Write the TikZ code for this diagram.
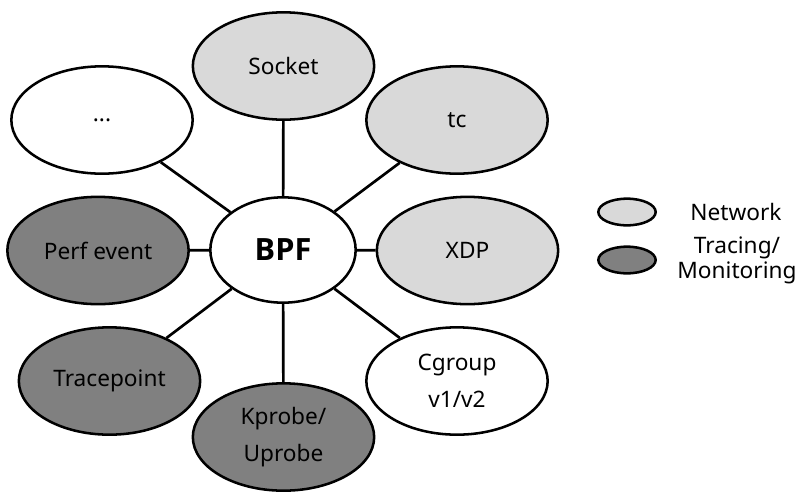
\documentclass[tikz,border=0pt]{standalone}
\usepackage{fontspec}
\setmainfont{Noto Sans}
\newfontfamily\bpffont{Open Sans}
\usetikzlibrary{shapes.geometric}
\definecolor{netgray}{HTML}{D9D9D9}
\definecolor{tracegray}{HTML}{808080}
\begin{document}
\begin{tikzpicture}[x=0.75pt,y=-0.75pt,
  base/.style={ellipse,draw=black,line width=1.9pt,inner sep=0pt,
    minimum width=136pt,minimum height=80.5pt,align=center,
    font=\fontsize{17}{27.75}\selectfont},
  net/.style={base,fill=netgray},
  trace/.style={base,fill=tracegray},
  other/.style={base,fill=white},
  center/.style={ellipse,draw=black,line width=1.9pt,fill=white,inner sep=0pt,
    minimum width=109pt,minimum height=79pt,font=\bpffont\bfseries\fontsize{23}{28}\selectfont},
  legend/.style={ellipse,draw=black,line width=1.9pt,inner sep=0pt,
    minimum width=43pt,minimum height=20pt},
  legtext/.style={align=center,inner sep=0pt,font=\fontsize{17}{18.75}\selectfont},
  link/.style={line width=2pt}]
\useasboundingbox (0,0) rectangle (807,501);
\node[center] (bpf) at (283,250) {BPF};
\node[net] (socket) at (283.5,66) {Socket};
\node[other] (dots) at (102,120) {...};
\node[net] (tc) at (457,120) {tc};
\node[net] (xdp) at (467.5,250.5) {XDP};
\node[other] (cgroup) at (457,381) {Cgroup\\v1/v2};
\node[trace] (kprobe) at (283.5,437) {Kprobe/\\Uprobe};
\node[trace] (tracepoint) at (109.5,381) {Tracepoint};
\node[trace] (perf) at (98,250.5) {Perf event};
\foreach \n in {socket,dots,tc,xdp,cgroup,kprobe,tracepoint,perf}
  \draw[link] (bpf) -- (\n);
\node[legend,fill=netgray] (lnet) at (627,212) {};
\node[legend,fill=tracegray] (ltrace) at (627,260) {};
\node[legtext] (tnet) at (736,212) {Network};
\node[legtext] (ttrace) at (737,260.5) {Tracing/\\Monitoring};
\end{tikzpicture}
\end{document}
